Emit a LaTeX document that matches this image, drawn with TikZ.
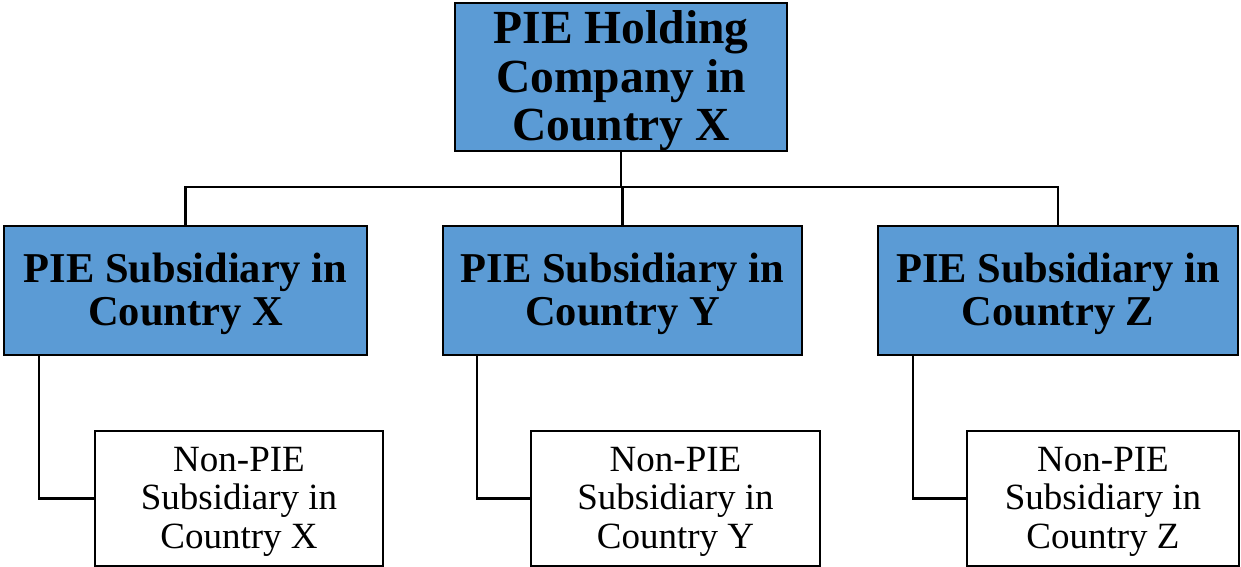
\documentclass[tikz,border=0pt]{standalone}
\usepackage{fontspec}
\setmainfont{Liberation Serif}
\definecolor{boxblue}{HTML}{5B9BD5}
\begin{document}
\begin{tikzpicture}[x=1pt,y=-1pt,
  conn/.style={draw=black,line width=2.2pt},
  bluebox/.style={draw=black,line width=2pt,fill=boxblue,inner sep=0pt},
  whitebox/.style={draw=black,line width=1.6pt,fill=white,inner sep=0pt,minimum height=135pt},
  toptext/.style={inner sep=0pt,align=center,font=\fontsize{47.5}{48.5}\selectfont\bfseries},
  subtext/.style={inner sep=0pt,align=center,font=\fontsize{42.5}{43.5}\selectfont\bfseries},
  nptext/.style={inner sep=0pt,align=center,font=\fontsize{37}{38.5}\selectfont}]
\useasboundingbox (0,0) rectangle (1241,567);
\node[bluebox,minimum width=332pt,minimum height=148pt] (top) at (621,77) {};
\node[bluebox,minimum width=363pt,minimum height=129pt] (s1) at (185.5,290.5) {};
\node[bluebox,minimum width=359pt,minimum height=129pt] (s2) at (622.5,290.5) {};
\node[bluebox,minimum width=360pt,minimum height=129pt] (s3) at (1058,290.5) {};
\node[whitebox,minimum width=288pt] (n1) at (239,498.5) {};
\node[whitebox,minimum width=289pt] (n2) at (675.5,498.5) {};
\node[whitebox,minimum width=272pt] (n3) at (1103,498.5) {};
\node[toptext] (toplbl) at ([yshift=-4pt]top.center) {PIE Holding\\Company in\\Country X};
\node[subtext] (s1lbl) at ([yshift=-3.5pt]s1.center) {PIE Subsidiary in\\Country X};
\node[subtext] (s2lbl) at ([yshift=-3.5pt]s2.center) {PIE Subsidiary in\\Country Y};
\node[subtext] (s3lbl) at ([yshift=-3.5pt]s3.center) {PIE Subsidiary in\\Country Z};
\node[nptext] (n1lbl) at ([yshift=-3pt]n1.center) {Non-PIE\\Subsidiary in\\Country X};
\node[nptext] (n2lbl) at ([yshift=-3pt]n2.center) {Non-PIE\\Subsidiary in\\Country Y};
\node[nptext] (n3lbl) at ([yshift=-3pt]n3.center) {Non-PIE\\Subsidiary in\\Country Z};
\coordinate (bus) at (621,187);
\draw[conn] (top.south) -- (top.south |- bus);
\draw[conn] (s1.north) -- (s1.north |- bus) -- (s3.north |- bus) -- (s3.north);
\draw[conn] (s2.north) -- (s2.north |- bus);
\draw[conn] ([xshift=36pt]s1.south west) |- (n1.west);
\draw[conn] ([xshift=35pt]s2.south west) |- (n2.west);
\draw[conn] ([xshift=36pt]s3.south west) |- (n3.west);
\end{tikzpicture}
\end{document}
